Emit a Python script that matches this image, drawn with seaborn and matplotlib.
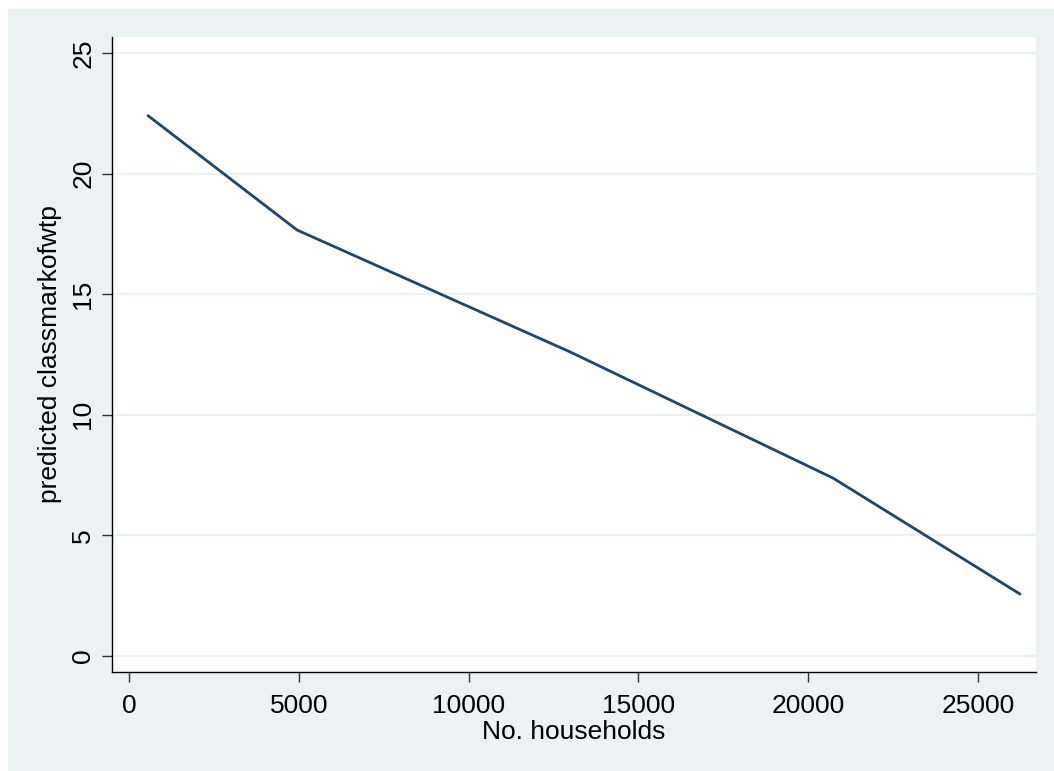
import seaborn as sns
import matplotlib.pyplot as plt
import pandas as pd
from matplotlib.patches import Rectangle

# valores
households = [560, 4950, 13000, 20730, 26240]
predicted = [22.4, 17.66, 12.6, 7.38, 2.57]
x_ticks = [0, 5000, 10000, 15000, 20000, 25000]
y_ticks = [0, 5, 10, 15, 20, 25]

df = pd.DataFrame({'households': households, 'predicted': predicted})

sns.set_style('white')
plt.rcParams['font.family'] = ['Liberation Sans', 'DejaVu Sans']
plt.rcParams['text.color'] = 'black'
plt.rcParams['axes.labelcolor'] = 'black'
plt.rcParams['xtick.labelcolor'] = 'black'
plt.rcParams['ytick.labelcolor'] = 'black'

bg = '#EAF2F3'
fig = plt.figure(figsize=(10.54, 7.71), dpi=100, facecolor='white')
fig.patches.append(Rectangle((8 / 1054, 0), 1, (771 - 9) / 771,
                             transform=fig.transFigure, color=bg, zorder=-10))
ax = fig.add_axes([112 / 1054, 99 / 771, (1036 - 112) / 1054, (672 - 37) / 771])
ax.set_facecolor('white')

for t in y_ticks:
    ax.axhline(t, color=bg, lw=1.6, zorder=1)

sns.lineplot(data=df, x='households', y='predicted', ax=ax,
             color='#1A476F', lw=2.0, zorder=3)

ax.set_xlim(-500, 26710)
ax.set_ylim(-0.66, 25.66)
ax.set_xticks(x_ticks)
ax.set_yticks(y_ticks)
ax.set_yticklabels([str(t) for t in y_ticks], rotation=90, va='center')

for s in ['top', 'right']:
    ax.spines[s].set_visible(False)
for s in ['left', 'bottom']:
    ax.spines[s].set_color('#000000')
    ax.spines[s].set_linewidth(1.0)

ax.tick_params(axis='both', which='major', length=7, width=1.0,
               color='#333333', labelsize=19, left=True, bottom=True)
ax.tick_params(axis='x', pad=9)
ax.tick_params(axis='y', pad=5)
ax.set_xlabel('No. households', fontsize=19, labelpad=1)
ax.set_ylabel('predicted classmarkofwtp', fontsize=19, labelpad=7)

plt.savefig('out.png', dpi=100, facecolor=fig.get_facecolor())
